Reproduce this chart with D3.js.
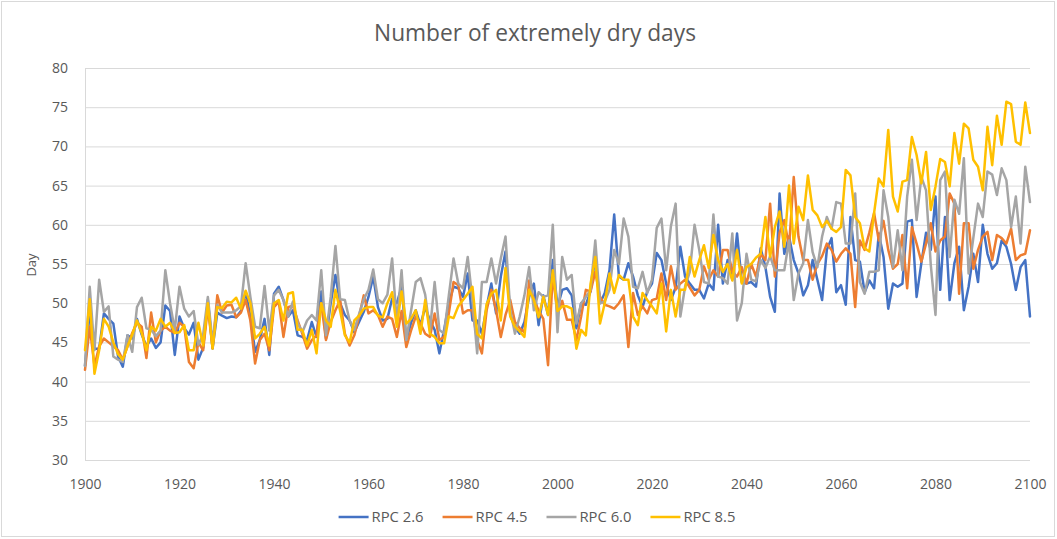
<!DOCTYPE html>
<html><head><meta charset="utf-8">
<script src="https://cdn.jsdelivr.net/npm/d3@7"></script>
<style>html,body{margin:0;padding:0;background:#fff;} svg{display:block;font-family:'Open Sans',sans-serif;}</style>
</head><body><svg id="c" width="1057" height="539"></svg>
<script>
const years = d3.range(1900, 2101);

const rpc26 = [
42, 49, 44.2, 44.2, 48.7, 48, 47.4, 43.2, 41.9, 45.9,
45.5, 48, 46, 44.5, 45.5, 44.3, 45, 49.7, 49, 43.4,
48.3, 46.8, 46, 47.5, 42.8, 44.3, 50.4, 44.2, 48.8, 48.4,
48.1, 48.3, 48.2, 49, 51.4, 48.3, 43.8, 45.3, 48, 43.4,
51.2, 52.1, 50.4, 48.3, 49.1, 45.9, 45.7, 45.3, 47.6, 45.7,
51.5, 45.5, 50, 53.6, 50, 48.5, 47.8, 46.3, 47.6, 48.9,
50.8, 53.4, 49.5, 47.8, 48, 50.6, 50, 52.1, 45.3, 47.5,
49.1, 47.2, 49.5, 47.8, 46.6, 43.6, 46.6, 50, 52.1, 51.9,
50.8, 53.8, 47.8, 47.8, 46.1, 49.5, 52.5, 48.7, 53.4, 56.6,
48.5, 47, 46.1, 47.6, 50.8, 52.5, 47.2, 51, 48.5, 55.5,
49.5, 51.7, 51.9, 51, 46.8, 50, 49.8, 51.5, 55.9, 50,
51.3, 54.2, 61.3, 53.4, 53, 55.1, 53.4, 51, 49.5, 51.5,
52.5, 56.4, 55.5, 52.5, 50.4, 52, 57.2, 53.4, 52.5, 51.7,
51.7, 50.6, 52.5, 51.7, 60, 52.5, 55.5, 53, 58.9, 52.7,
52.5, 52.7, 52.1, 57, 54.6, 50.8, 48.9, 64, 56.3, 58.5,
55.5, 53.8, 51, 52.3, 55.5, 53, 50.4, 56.8, 58.3, 51.4,
52.3, 49.8, 61, 55.5, 55.3, 51.4, 52.9, 51.9, 58.9, 55.9,
49.3, 52.5, 52.1, 52.5, 60.4, 60.6, 50.8, 55.1, 59, 56.8,
63.6, 51.7, 61, 50.4, 55.1, 57.2, 49.1, 52.1, 56.3, 52.7,
60, 56.3, 54.4, 55.1, 58, 57.2, 55, 51.7, 54.6, 55.5,
48.3];

const rpc45 = [
41.5, 47, 42, 44.5, 45.5, 45, 44.5, 44, 42.8, 44.5,
46.2, 47.5, 47, 43, 48.8, 45, 46.5, 47, 46.5, 46.2,
47.5, 47, 42.5, 41.7, 45, 44, 49.5, 44.3, 51, 48.8,
49.7, 49.8, 48.2, 48.8, 50.4, 47.8, 42.3, 45.3, 46.1, 44,
49.5, 50.2, 45.7, 49.5, 49.7, 47.8, 46.1, 44.2, 45.3, 45.9,
50, 45.3, 47.6, 49.1, 50.4, 46.1, 44.6, 45.9, 48.3, 51,
48.7, 49.1, 48.5, 47, 48.3, 48, 45.7, 49, 44.4, 46.5,
48.3, 47.4, 46.1, 45.7, 48.7, 45.3, 45.7, 48.7, 52.7, 52.3,
48.7, 49.1, 49.1, 45.3, 43.6, 49.1, 51.7, 49.1, 45.7, 48.5,
50.4, 47.6, 46.8, 46.3, 52.9, 50.4, 49.1, 48, 42.1, 53.7,
48.6, 50.3, 47.9, 47.9, 45.3, 48.3, 51.7, 51.5, 54, 50.8,
49.8, 49.6, 49.3, 50, 51, 44.4, 51.3, 48.5, 49.6, 48.7,
50.4, 50.6, 53.8, 50.4, 54.7, 51.7, 52.5, 53, 52, 51,
51.7, 54.7, 53, 54.2, 53.4, 56.8, 56.8, 54, 53.4, 54.6,
52.5, 55, 53.4, 56.3, 55.5, 62.7, 53.4, 59, 60.6, 57.2,
66.1, 58.5, 55.5, 55.5, 53, 55, 56, 57.6, 56.8, 55.3,
56.3, 57, 56.3, 49.5, 58, 56.8, 59, 61.5, 58, 60.5,
56.8, 54.4, 55, 58.7, 51.9, 59.7, 57.6, 55.3, 57.6, 60.2,
56.6, 58, 58.5, 64, 62.7, 51.2, 60.2, 60.2, 54.4, 56.8,
58.5, 59.1, 55.5, 58.7, 58.3, 57.6, 59.5, 55.5, 56.1, 56.3,
59.3];

const rpc60 = [
42, 52.1, 44, 53, 48.9, 49.6, 43.2, 42.8, 42.5, 45.9,
43.8, 49.5, 50.7, 46.8, 46.6, 45.8, 46.5, 54.2, 50, 46.6,
52.1, 49.3, 48.3, 49, 44.7, 46, 50.8, 45, 49.8, 48.8,
48.8, 48.8, 49.1, 49.6, 55.1, 50.8, 47, 46.8, 52.2, 46.5,
51, 51.7, 50.4, 48.3, 50.2, 47.5, 46.3, 47.8, 48.5, 47.8,
54.2, 45.9, 50.8, 57.3, 50.5, 50.4, 47.8, 46.6, 48.6, 50.5,
51.7, 54.3, 50.5, 50, 51.1, 55.7, 47.5, 54.2, 45.3, 49,
52.7, 53.2, 51.1, 46.5, 52.7, 46.6, 46.1, 51, 55.7, 52.5,
51.9, 55.9, 50.4, 43.6, 52.7, 52.7, 55.7, 52.5, 55.7, 58.5,
49.1, 46.1, 48.3, 51, 54.6, 49.1, 51.4, 50.8, 51, 60,
46.3, 55.9, 53, 53.6, 47.4, 50, 50.8, 51.7, 58, 50,
50.2, 51.7, 56.8, 55, 60.8, 58.5, 52.1, 51.9, 54, 51.3,
53, 59.6, 60.8, 54.2, 59.8, 62.7, 48.3, 52.1, 54, 60,
56.8, 52.7, 52.5, 61.3, 53.4, 53.2, 52.5, 58.9, 47.8, 50,
56.3, 53, 52.8, 55.5, 54.5, 56, 54.2, 54.2, 54.2, 58,
50.4, 53.8, 55.1, 60.6, 56.5, 54.6, 58.5, 61, 59.5, 62.9,
62.7, 57.6, 57.6, 64, 52.7, 51.2, 54, 54, 54.2, 64.4,
61, 54.6, 59.3, 54.2, 63.6, 68.3, 60.6, 66.1, 64.4, 54.9,
48.5, 65.7, 66.8, 55.9, 63.2, 61.4, 68.5, 53.8, 58.3, 62.7,
61, 66.8, 66.4, 63.8, 67.2, 65.7, 59.7, 63.6, 57.6, 67.4,
62.9];

const rpc85 = [
44, 50.5, 41, 44, 48, 47, 45, 43.5, 42.8, 44.5,
46, 47.8, 46.2, 44, 47, 46.5, 48, 47, 47.5, 46.2,
46.3, 47.2, 44, 44, 47.5, 44.6, 50, 44.2, 49.5, 49.4,
50.2, 50.1, 50.7, 49.3, 51.6, 50, 45.5, 46.1, 47, 44.6,
50, 50.4, 47.8, 51.2, 51.4, 46.6, 46.6, 44.6, 46.6, 43.6,
50, 47.8, 47, 51.7, 49, 45.9, 45, 47.8, 48.4, 49.3,
49.5, 49.5, 48.4, 48.2, 50, 51.4, 47, 51.5, 47.4, 48,
49.1, 46.1, 50.4, 46.1, 45.7, 44.9, 44.9, 48.3, 48.1, 49.6,
50.4, 51.2, 52.1, 46.1, 45.5, 49.9, 51.2, 51.7, 47.8, 54.5,
48.3, 47, 46.4, 45.7, 51.7, 50.4, 48.2, 50.8, 48.5, 54.2,
49, 49.6, 49.6, 49.3, 44.2, 46.6, 45.9, 52.5, 55.9, 47.4,
50, 53.8, 51.3, 53.6, 53, 53, 48.3, 47.2, 51.3, 50.4,
49.6, 48.7, 52.5, 46.4, 51.7, 48.3, 51.7, 51.7, 55.9, 53.4,
55.5, 57.4, 54.5, 58.7, 55.5, 54, 55, 52.9, 56.8, 52.5,
54.6, 55, 55.8, 56.3, 61, 55.9, 59.7, 61.7, 57.2, 65,
57.6, 62.3, 60.6, 66.3, 61.9, 61.2, 59.7, 60.5, 59.5, 59.1,
59.7, 67, 66.3, 61, 60.2, 57, 56.6, 61.5, 65.9, 64.9,
72.1, 63.6, 61.7, 65.5, 65.7, 71.2, 68.9, 65.3, 69.3, 61.9,
64.9, 68.4, 68, 64.9, 71.7, 67.8, 72.9, 72.3, 68.3, 67.4,
64.4, 72.5, 67.6, 73.9, 70.2, 75.7, 75.4, 70.6, 70.2, 75.6,
71.7];

const seriesNames = ["RPC 2.6", "RPC 4.5", "RPC 6.0", "RPC 8.5"];
const seriesColors = ["#4472C4", "#ED7D31", "#A5A5A5", "#FFC000"];
const seriesValues = [rpc26, rpc45, rpc60, rpc85];
const xTicks = d3.range(1900, 2101, 20);
const yTicks = d3.range(30, 81, 5);
const titleText = "Number of extremely dry days";
const yTitle = "Day";

const svg = d3.select("#c");
const textColor = "#595959";
const gridColor = "#d9d9d9";

svg.append("rect").attr("x", 1.5).attr("y", 1.5).attr("width", 1053).attr("height", 535)
  .attr("fill", "#fff").attr("stroke", "#d9d9d9");

const x = d3.scaleLinear().domain([1900, 2100]).range([85, 1030]);
const y = d3.scaleLinear().domain([30, 80]).range([460, 68]);

// y grid + labels
svg.append("g").attr("transform", "translate(85,0)")
  .call(d3.axisLeft(y).tickValues(yTicks).tickSize(-945).tickPadding(17))
  .call(g => g.select(".domain").remove())
  .call(g => g.selectAll("line").attr("stroke", gridColor).attr("stroke-width", 1))
  .call(g => g.selectAll("text").attr("fill", textColor).attr("font-size", 14)
    .attr("font-family", "'Open Sans',sans-serif"));

// left axis line
svg.append("line").attr("x1", 85.5).attr("x2", 85.5).attr("y1", y(80)).attr("y2", y(30))
  .attr("stroke", gridColor);

// x labels
svg.append("g").attr("transform", "translate(0,460)")
  .call(d3.axisBottom(x).tickValues(xTicks).tickFormat(d3.format("d")).tickSize(0).tickPadding(19))
  .call(g => g.select(".domain").remove())
  .call(g => g.selectAll("text").attr("fill", textColor).attr("font-size", 14)
    .attr("font-family", "'Open Sans',sans-serif"));

// lines
const line = d3.line().x((d, i) => x(years[i])).y(d => y(d));
seriesValues.forEach((vals, k) => {
  svg.append("path").datum(vals)
    .attr("fill", "none").attr("stroke", seriesColors[k]).attr("stroke-width", 2.5)
    .attr("stroke-linejoin", "round").attr("stroke-linecap", "round")
    .attr("d", line);
});

function fitWidth(sel, target) {
  const w = sel.node().getComputedTextLength();
  const fs = +sel.attr("font-size");
  if (w > 0) sel.attr("font-size", fs * target / w);
}

// title
const t = svg.append("text").attr("x", 535).attr("y", 41).attr("text-anchor", "middle")
  .attr("fill", textColor).attr("font-size", 20).text(titleText);
fitWidth(t, 322);

// y title
svg.append("text").attr("transform", "translate(36,265) rotate(-90)").attr("text-anchor", "middle")
  .attr("fill", textColor).attr("font-size", 13).text(yTitle);

// legend
const lg = svg.append("g");
const lineLen = 30, gapText = 3, gapItem = 19, legY = 517;
const items = seriesNames.map((n, k) => {
  const g = lg.append("g");
  g.append("line").attr("stroke", seriesColors[k]).attr("stroke-width", 2.5).attr("y1", legY).attr("y2", legY);
  const tx = g.append("text").attr("fill", textColor).attr("font-size", 14).attr("dy", "0.35em").attr("y", legY).text(n);
  fitWidth(tx, 52);
  return { g, tx, w: tx.node().getComputedTextLength() };
});
const total = d3.sum(items, d => lineLen + gapText + d.w) + gapItem * (items.length - 1);
let cx = 537 - total / 2;
items.forEach(it => {
  it.g.select("line").attr("x1", cx).attr("x2", cx + lineLen);
  it.tx.attr("x", cx + lineLen + gapText);
  cx += lineLen + gapText + it.w + gapItem;
});
</script>
</body></html>
